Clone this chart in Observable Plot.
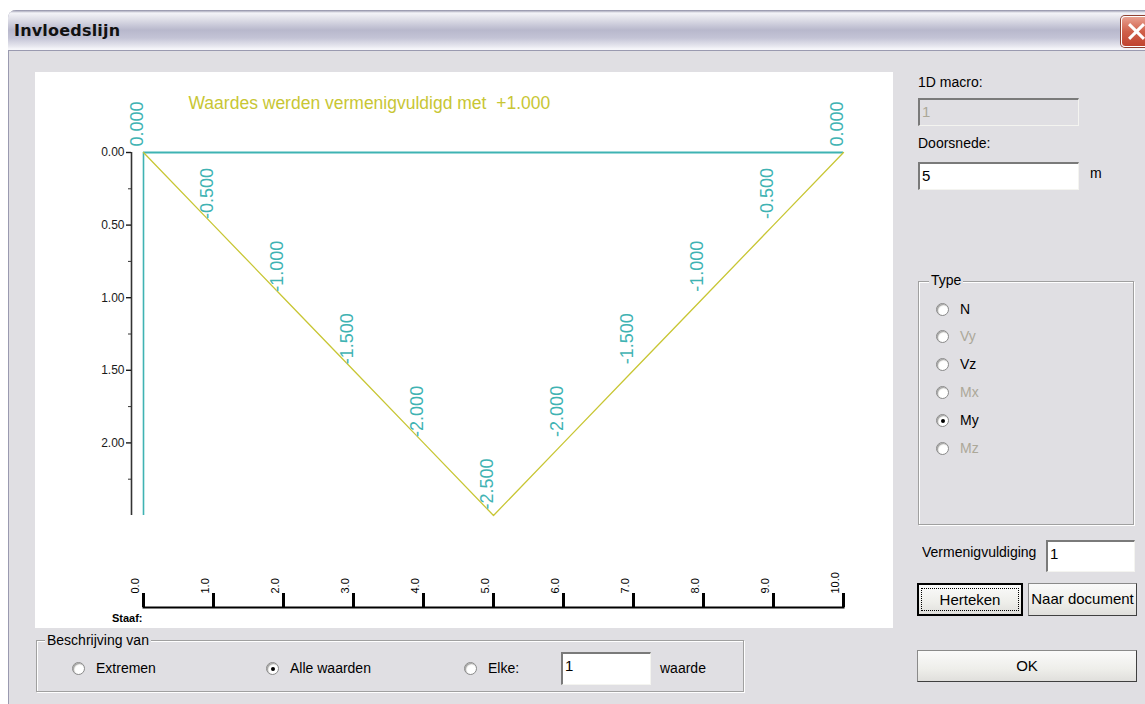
<!DOCTYPE html>
<html><head><meta charset="utf-8">
<script src="https://cdn.jsdelivr.net/npm/d3@7"></script>
<script src="https://cdn.jsdelivr.net/npm/@observablehq/plot@0.6"></script>
<style>
html,body{margin:0;padding:0;width:1145px;height:704px;overflow:hidden;background:#fff;font-family:"Liberation Sans",Arial,sans-serif;}
.a{position:absolute}
#win{left:8px;top:10px;width:1160px;height:720px;background:#e0dfe3;border-radius:8px 8px 0 0;border-left:1px solid #9a9ab0;}
#title{left:8px;top:10px;width:1160px;height:40px;border-radius:8px 8px 0 0;
 background:linear-gradient(#8c8ca4 0px,#f4f4f8 3px,#dcdce6 10px,#b8b8cc 20px,#c4c4d6 28px,#e6e6ee 36px,#f6f6fa 39px);border-bottom:1px solid #9a9ab0;}
#ttext{left:14px;top:21px;font:bold 16px "DejaVu Sans",sans-serif;color:#111;letter-spacing:0.2px}
#close{left:1121px;top:16px;width:30px;height:29px;border-radius:4px;background:linear-gradient(#e8a090,#d0604a 50%,#c04430);border:1px solid #fff;box-shadow:0 0 0 1px #904030;overflow:hidden}
#close i{position:absolute;left:13px;top:4px;width:3px;height:21px;background:#fff}
#close i.p{transform:rotate(45deg)}
#close i.m{transform:rotate(-45deg)}
#chart{left:35px;top:72px;width:858px;height:556px;background:#fff}
.lbl{font-size:14px;color:#000;white-space:nowrap;line-height:16px}
.dis{color:#aca899}
.inp{background:#fff;border-top:2px solid #7a7a7a;border-left:2px solid #7a7a7a;border-right:1px solid #f4f4f0;border-bottom:1px solid #f4f4f0;box-sizing:border-box;font-size:15px;padding:2px 0 0 2px;line-height:20px}
.inp.dis{background:#e0dfe3;color:#aca899}
.radio{width:13px;height:13px;border-radius:50%;box-sizing:border-box;border:1px solid #8a8a8a;background:radial-gradient(circle at 65% 65%,#ffffff 45%,#dcdad2 100%);box-shadow:inset 1px 1px 1px #a0a0a0}
.radio.on::after{content:"";position:absolute;left:3.5px;top:3.5px;width:4px;height:4px;border-radius:50%;background:#000}
.group{border:1px solid #a0a0a0;box-shadow:inset 1px 1px 0 #fff,1px 1px 0 #fff}
.glabel{background:#e0dfe3;padding:0 2px;font-size:14px;line-height:16px}
.btn{box-sizing:border-box;background:linear-gradient(#fafafa,#eeeeea 60%,#e0dfdc);border:1px solid #8a8a8a;border-right-color:#404040;border-bottom-color:#404040;font-size:15px;text-align:center;color:#000}
</style></head><body>
<div class="a" id="win"></div>
<div class="a" id="title"></div>
<div class="a" id="ttext">Invloedslijn</div>
<div class="a" id="close"><i class="p"></i><i class="m"></i></div>
<div class="a" id="chart"></div>

<div class="a lbl" style="left:918px;top:74px">1D macro:</div>
<div class="a inp dis" style="left:918px;top:98px;width:161px;height:28px">1</div>
<div class="a lbl" style="left:918px;top:135px">Doorsnede:</div>
<div class="a inp" style="left:918px;top:162px;width:161px;height:28px">5</div>
<div class="a lbl" style="left:1090px;top:165px">m</div>

<div class="a group" style="left:918px;top:281px;width:214px;height:242px"></div>
<div class="a glabel" style="left:929px;top:272px">Type</div>
<div class="a radio" style="left:936px;top:303px"></div><div class="a lbl" style="left:960px;top:301px">N</div>
<div class="a radio" style="left:936px;top:330px"></div><div class="a lbl dis" style="left:960px;top:328px">Vy</div>
<div class="a radio" style="left:936px;top:358px"></div><div class="a lbl" style="left:960px;top:356px">Vz</div>
<div class="a radio" style="left:936px;top:386px"></div><div class="a lbl dis" style="left:960px;top:384px">Mx</div>
<div class="a radio on" style="left:936px;top:414px"></div><div class="a lbl" style="left:960px;top:412px">My</div>
<div class="a radio" style="left:936px;top:442px"></div><div class="a lbl dis" style="left:960px;top:440px">Mz</div>

<div class="a lbl" style="left:922px;top:544px;width:122px;overflow:hidden">Vermenigvuldiging</div>
<div class="a inp" style="left:1046px;top:540px;width:89px;height:32px">1</div>
<div class="a btn" style="left:917px;top:583px;width:106px;height:33px;border:2px solid #000;padding-top:3px"><div style="border:1px dotted #000;margin:0 2px;line-height:21px">Herteken</div></div>
<div class="a btn" style="left:1028px;top:583px;width:109px;height:33px;line-height:30px;overflow:hidden;white-space:nowrap">Naar document</div>
<div class="a btn" style="left:917px;top:650px;width:220px;height:32px;line-height:30px">OK</div>

<div class="a group" style="left:36px;top:640px;width:706px;height:50px"></div>
<div class="a glabel" style="left:45px;top:632px">Beschrijving van</div>
<div class="a radio" style="left:72px;top:662px"></div><div class="a lbl" style="left:96px;top:660px">Extremen</div>
<div class="a radio on" style="left:266px;top:662px"></div><div class="a lbl" style="left:290px;top:660px">Alle waarden</div>
<div class="a radio" style="left:464px;top:662px"></div><div class="a lbl" style="left:488px;top:660px">Elke:</div>
<div class="a inp" style="left:561px;top:652px;width:90px;height:33px">1</div>
<div class="a lbl" style="left:660px;top:660px">waarde</div>

<script>
// ---- data ----
const positions = [0, 1, 2, 3, 4, 5, 6, 7, 8, 9, 10];
const influence = [0, -0.5, -1.0, -1.5, -2.0, -2.5, -2.0, -1.5, -1.0, -0.5, 0];
const yTickValues = [0, 0.5, 1.0, 1.5, 2.0];
const yTickLabels = ["0.00", "0.50", "1.00", "1.50", "2.00"];
const yMinorTicks = [0.25, 0.75, 1.25, 1.75, 2.25];
const staafTicks = [0, 1, 2, 3, 4, 5, 6, 7, 8, 9, 10];
const staafLabels = ["0.0", "1.0", "2.0", "3.0", "4.0", "5.0", "6.0", "7.0", "8.0", "9.0", "10.0"];
const titleText = "Waardes werden vermenigvuldigd met  +1.000";

// ---- chart ----
const W = 858, H = 556, MT = 20, MB = 21;
const teal = "#3fb3b3", yellow = "#c8c634";
const rows = positions.map((x, i) => ({x, v: influence[i]}));
const vMin = d3.min(influence);
const xExt = d3.extent(positions);

const chart = Plot.plot({
  width: W, height: H,
  marginLeft: 108, marginRight: 50, marginTop: MT, marginBottom: MB,
  x: {domain: xExt, axis: null},
  y: {domain: [0, vMin], range: [80, 443], axis: null},
  style: {background: "transparent", fontFamily: "'Liberation Sans', Arial, sans-serif", overflow: "visible"},
  marks: [
    Plot.text([titleText], {frameAnchor: "top-left", dx: 45, dy: 4, textAnchor: "start", fill: yellow, fontSize: 17.5}),
    Plot.ruleX([xExt[0]], {y1: 0, y2: vMin, dx: -12, stroke: "#333", strokeWidth: 1.6}),
    Plot.axisY(yTickValues.map(v => -v), {anchor: "left", dx: -12, tickSize: 5, tickPadding: 2, label: null,
      tickFormat: d => yTickLabels[yTickValues.indexOf(Math.abs(d))], fontSize: 12, color: "#1a1a1a", strokeWidth: 1.4}),
    Plot.axisY(yMinorTicks.map(v => -v), {anchor: "left", dx: -12, tickSize: 3, label: null, tickFormat: () => "", color: "#333"}),
    Plot.ruleX([xExt[0]], {y1: 0, y2: vMin, stroke: teal, strokeWidth: 1.6}),
    Plot.ruleY([0], {x1: xExt[0], x2: xExt[1], stroke: teal, strokeWidth: 2}),
    Plot.line(rows, {x: "x", y: "v", stroke: yellow, strokeWidth: 1.3}),
    Plot.text(rows, {x: "x", y: "v", text: d => d.v.toFixed(3), rotate: -90, textAnchor: "start",
      dx: -6, dy: -6, fill: teal, fontSize: 18}),
    // Staaf axis
    Plot.frame({anchor: "bottom", stroke: "#000", strokeWidth: 2}),
    Plot.tickX(staafTicks, {x: d => d, insetTop: H - MT - MB - 14, stroke: "#000", strokeWidth: 3}),
    Plot.text(staafTicks, {x: d => d, frameAnchor: "bottom", text: (d, i) => staafLabels[i], rotate: -90,
      textAnchor: "start", dx: -5, dy: -14, fontSize: 11, fill: "#000"}),
    Plot.text(["Staaf:"], {frameAnchor: "bottom-left", textAnchor: "end", dx: -1, dy: 14, fontSize: 11, fontWeight: "bold", fill: "#000"})
  ]
});
document.getElementById("chart").appendChild(chart);
</script>
</body></html>
